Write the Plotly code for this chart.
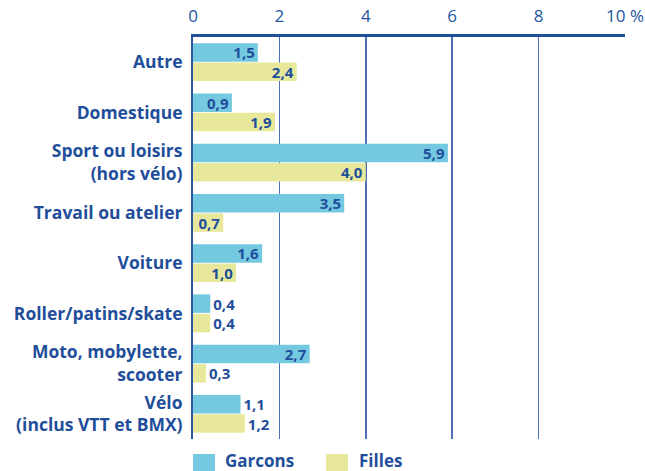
import plotly.graph_objects as go

categories = ["Autre", "Domestique", "Sport ou loisirs<br>(hors vélo)", "Travail ou atelier",
              "Voiture", "Roller/patins/skate", "Moto, mobylette,<br>scooter",
              "Vélo<br>(inclus VTT et BMX)"]
garcons = [1.5, 0.9, 5.9, 3.5, 1.6, 0.4, 2.7, 1.1]
filles = [2.4, 1.9, 4.0, 0.7, 1.0, 0.4, 0.3, 1.2]
garcons_pos = ["inside", "inside", "inside", "inside", "inside", "outside", "inside", "outside"]
filles_pos = ["inside", "inside", "inside", "inside", "inside", "outside", "outside", "outside"]
tick_vals = [0, 2, 4, 6, 8, 10]
tick_text = ["0", "2", "4", "6", "8", "10 %"]
series_names = ["Garcons", "Filles"]

DARK = "#1F4E9A"
FONT = "Open Sans"
C_G = "#74C8E0"
C_F = "#E8E89C"

def fmt(v):
    return f"{v:.1f}".replace(".", ",")

vfont = dict(family=FONT, size=15, color=DARK, weight="bold")

fig = go.Figure()
for name, vals, pos, col in [(series_names[0], garcons, garcons_pos, C_G),
                             (series_names[1], filles, filles_pos, C_F)]:
    fig.add_trace(go.Bar(
        name=name, y=categories, x=vals, orientation="h",
        marker=dict(color=col, line=dict(width=0)),
        text=[fmt(v) for v in vals], textposition=pos,
        insidetextanchor="end", textfont=vfont, outsidetextfont=vfont, insidetextfont=vfont,
        cliponaxis=False, showlegend=False,
    ))

# legend drawn as swatches + labels below the plot (reference legend sits at the very bottom edge)
shapes = []
annotations = []
for (name, col, sx, tx) in [(series_names[0], C_G, 0, 30), (series_names[1], C_F, 133, 164)]:
    shapes.append(dict(type="rect", xref="paper", yref="paper",
                       xsizemode="pixel", ysizemode="pixel", xanchor=0, yanchor=0,
                       x0=sx, x1=sx + 22, y0=-15, y1=-36,
                       fillcolor=col, line=dict(width=0)))
    annotations.append(dict(text=name, xref="paper", yref="paper", x=0, y=0,
                            xanchor="left", yanchor="top", xshift=tx, yshift=-8,
                            showarrow=False,
                            font=dict(family=FONT, size=17, color=DARK, weight="bold")))

fig.update_layout(
    width=645, height=471,
    margin=dict(l=193, r=20, t=37, b=32),
    paper_bgcolor="white", plot_bgcolor="white",
    barmode="group", bargap=0.225, bargroupgap=0.05,
    font=dict(family=FONT, color=DARK),
    showlegend=False,
    shapes=shapes, annotations=annotations,
    uniformtext=dict(mode="show", minsize=15),
)
fig.update_xaxes(
    side="top", range=[0, 10], tickvals=tick_vals, ticktext=tick_text,
    tickfont=dict(family=FONT, size=17, color="#2356A0"),
    ticklabelstandoff=5,
    showgrid=True, gridcolor="#4D6FB5", gridwidth=1.5,
    showline=True, linecolor=DARK, linewidth=3,
    zeroline=False, ticks="", fixedrange=True, automargin=False,
)
fig.update_yaxes(
    categoryorder="array", categoryarray=categories, autorange="reversed",
    tickfont=dict(family=FONT, size=17.5, color=DARK, weight="bold"),
    showline=True, linecolor="#2A56A5", linewidth=2,
    ticks="outside", ticklen=0, showgrid=False, automargin=False,
    ticklabelstandoff=5, fixedrange=True,
)
fig.write_html("out.html", config={"displayModeBar": False, "staticPlot": True},
               post_script="document.body.style.margin='0';")
